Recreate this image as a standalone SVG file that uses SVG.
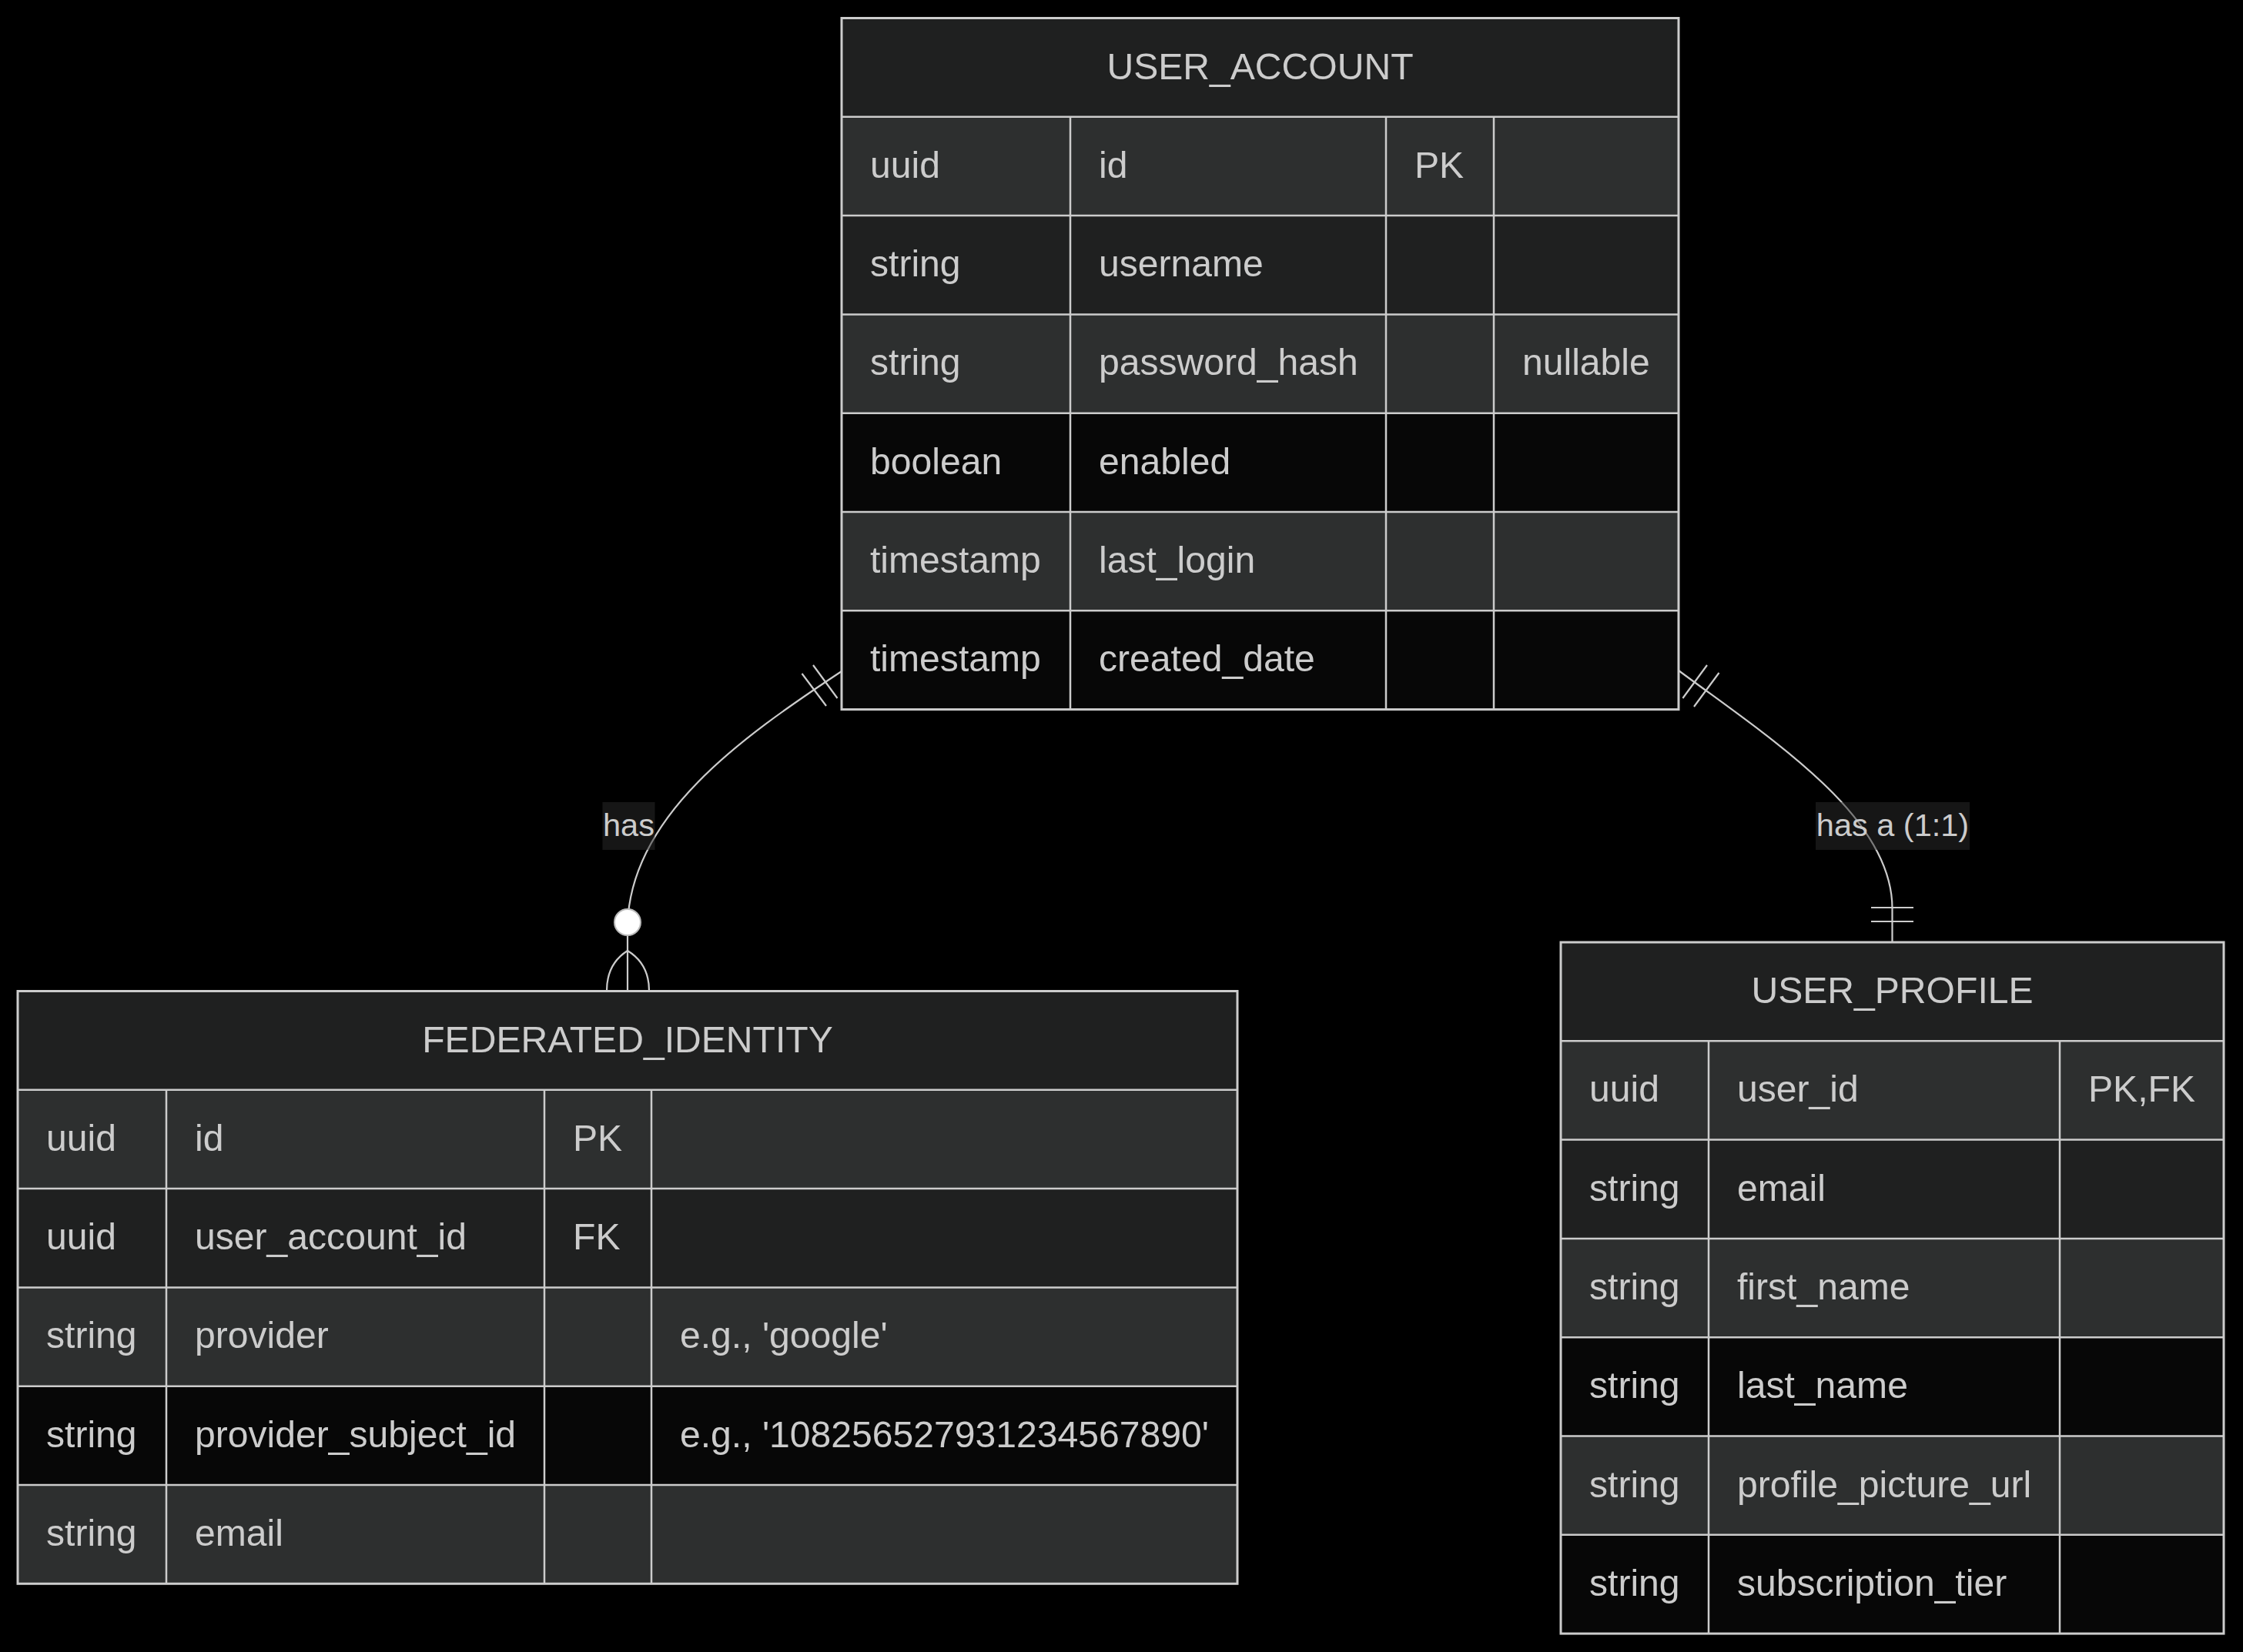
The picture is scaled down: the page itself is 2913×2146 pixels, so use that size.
<svg xmlns="http://www.w3.org/2000/svg" width="2913" height="2146" viewBox="0 0 2913 2146">
  <style>
    .bg { fill: #000000; }
    .hdr { fill: #1f2020; }
    .r1 { fill: #2d2f2f; }
    .r2 { fill: #1f2020; }
    .r3 { fill: #070707; }
    .grid { stroke: #cccccc; stroke-width: 2.5; fill: none; }
    .frame { stroke: #cccccc; stroke-width: 3; fill: none; }
    .t { fill: #cccccc; font-family: "Liberation Sans", Arial, sans-serif; font-size: 48.1px; }
    .tt { text-anchor: middle; }
    .rel { stroke: #cccccc; stroke-width: 2.2; fill: none; }
    .lblbg { fill: #2c2c2c; fill-opacity: 0.5; }
    .lbl { fill: #cccccc; font-family: "Liberation Sans", Arial, sans-serif; font-size: 41.5px; text-anchor: middle; }
    .dot { fill: #ffffff; stroke: #bbbbbb; stroke-width: 2; }
  </style>

  <rect class="bg" x="0" y="0" width="2913" height="2146"/>

  <!-- relationship lines -->
  <g id="connectors">
    <!-- USER_ACCOUNT exactly one, FEDERATED_IDENTITY zero or more -->
    <path class="rel" d="M1093,872 C960,960 820,1060 815,1200 L815,1287"/>
    <path class="rel" d="M1041.5,875 L1073,917 M1056,864 L1087.5,907"/>
    <circle class="dot" cx="815" cy="1198" r="17"/>
    <path class="rel" d="M815,1235 Q788,1252 788,1287 M815,1235 Q843,1252 843,1287"/>
    <!-- USER_ACCOUNT exactly one, USER_PROFILE exactly one -->
    <path class="rel" d="M2180,871 C2300,960 2457.5,1060 2457.5,1180 L2457.5,1224"/>
    <path class="rel" d="M2185.4,907 L2217,864 M2200,918 L2232.5,874"/>
    <path class="rel" d="M2430,1179 L2485,1179 M2430,1197 L2485,1197"/>
  </g>

  <g id="labels">
    <rect class="lblbg" x="782.5" y="1042" width="68" height="62"/>
    <text class="lbl" x="816.5" y="1086">has</text>
    <rect class="lblbg" x="2358" y="1042" width="200" height="62"/>
    <text class="lbl" x="2458" y="1086">has a (1:1)</text>
  </g>

  <!-- USER_ACCOUNT -->
  <g id="USER_ACCOUNT">
    <rect class="hdr" x="1093" y="23.5" width="1087" height="128.3"/>
    <rect class="r1" x="1093" y="151.8" width="1087" height="128.3"/>
    <rect class="r2" x="1093" y="280.1" width="1087" height="128.3"/>
    <rect class="r1" x="1093" y="408.4" width="1087" height="128.3"/>
    <rect class="r3" x="1093" y="536.7" width="1087" height="128.3"/>
    <rect class="r1" x="1093" y="665" width="1087" height="128.3"/>
    <rect class="r3" x="1093" y="793.3" width="1087" height="128.3"/>
    <path class="grid" d="M1093,151.8 H2180 M1093,280.1 H2180 M1093,408.4 H2180 M1093,536.7 H2180 M1093,665 H2180 M1093,793.3 H2180 M1390,151.8 V921.6 M1800,151.8 V921.6 M1940,151.8 V921.6"/>
    <rect class="frame" x="1093" y="23.5" width="1087" height="898.1"/>
    <text class="t tt" x="1636.5" y="102.5">USER_ACCOUNT</text>
    <text class="t" x="1130" y="230.8">uuid</text>
    <text class="t" x="1427" y="230.8">id</text>
    <text class="t" x="1837" y="230.8">PK</text>
    <text class="t" x="1130" y="359.1">string</text>
    <text class="t" x="1427" y="359.1">username</text>
    <text class="t" x="1130" y="487.4">string</text>
    <text class="t" x="1427" y="487.4">password_hash</text>
    <text class="t" x="1977" y="487.4">nullable</text>
    <text class="t" x="1130" y="615.7">boolean</text>
    <text class="t" x="1427" y="615.7">enabled</text>
    <text class="t" x="1130" y="744">timestamp</text>
    <text class="t" x="1427" y="744">last_login</text>
    <text class="t" x="1130" y="872.3">timestamp</text>
    <text class="t" x="1427" y="872.3">created_date</text>
  </g>

  <!-- FEDERATED_IDENTITY -->
  <g id="FEDERATED_IDENTITY">
    <rect class="hdr" x="23" y="1287.5" width="1584" height="128.3"/>
    <rect class="r1" x="23" y="1415.8" width="1584" height="128.3"/>
    <rect class="r2" x="23" y="1544.1" width="1584" height="128.3"/>
    <rect class="r1" x="23" y="1672.4" width="1584" height="128.3"/>
    <rect class="r3" x="23" y="1800.7" width="1584" height="128.3"/>
    <rect class="r1" x="23" y="1929" width="1584" height="128.3"/>
    <path class="grid" d="M23,1415.8 H1607 M23,1544.1 H1607 M23,1672.4 H1607 M23,1800.7 H1607 M23,1929 H1607 M216,1415.8 V2057.3 M707,1415.8 V2057.3 M846,1415.8 V2057.3"/>
    <rect class="frame" x="23" y="1287.5" width="1584" height="769.8"/>
    <text class="t tt" x="815" y="1366.5">FEDERATED_IDENTITY</text>
    <text class="t" x="60" y="1494.8">uuid</text>
    <text class="t" x="253" y="1494.8">id</text>
    <text class="t" x="744" y="1494.8">PK</text>
    <text class="t" x="60" y="1623.1">uuid</text>
    <text class="t" x="253" y="1623.1">user_account_id</text>
    <text class="t" x="744" y="1623.1">FK</text>
    <text class="t" x="60" y="1751.4">string</text>
    <text class="t" x="253" y="1751.4">provider</text>
    <text class="t" x="883" y="1751.4">e.g., 'google'</text>
    <text class="t" x="60" y="1879.7">string</text>
    <text class="t" x="253" y="1879.7">provider_subject_id</text>
    <text class="t" x="883" y="1879.7">e.g., '108256527931234567890'</text>
    <text class="t" x="60" y="2008">string</text>
    <text class="t" x="253" y="2008">email</text>
  </g>

  <!-- USER_PROFILE -->
  <g id="USER_PROFILE">
    <rect class="hdr" x="2027" y="1224" width="861" height="128.3"/>
    <rect class="r1" x="2027" y="1352.3" width="861" height="128.3"/>
    <rect class="r2" x="2027" y="1480.6" width="861" height="128.3"/>
    <rect class="r1" x="2027" y="1608.9" width="861" height="128.3"/>
    <rect class="r3" x="2027" y="1737.2" width="861" height="128.3"/>
    <rect class="r1" x="2027" y="1865.5" width="861" height="128.3"/>
    <rect class="r3" x="2027" y="1993.8" width="861" height="128.3"/>
    <path class="grid" d="M2027,1352.3 H2888 M2027,1480.6 H2888 M2027,1608.9 H2888 M2027,1737.2 H2888 M2027,1865.5 H2888 M2027,1993.8 H2888 M2219,1352.3 V2122.1 M2675,1352.3 V2122.1"/>
    <rect class="frame" x="2027" y="1224" width="861" height="898.1"/>
    <text class="t tt" x="2457.5" y="1303">USER_PROFILE</text>
    <text class="t" x="2064" y="1431.3">uuid</text>
    <text class="t" x="2256" y="1431.3">user_id</text>
    <text class="t" x="2712" y="1431.3">PK,FK</text>
    <text class="t" x="2064" y="1559.6">string</text>
    <text class="t" x="2256" y="1559.6">email</text>
    <text class="t" x="2064" y="1687.9">string</text>
    <text class="t" x="2256" y="1687.9">first_name</text>
    <text class="t" x="2064" y="1816.2">string</text>
    <text class="t" x="2256" y="1816.2">last_name</text>
    <text class="t" x="2064" y="1944.5">string</text>
    <text class="t" x="2256" y="1944.5">profile_picture_url</text>
    <text class="t" x="2064" y="2072.8">string</text>
    <text class="t" x="2256" y="2072.8">subscription_tier</text>
  </g>
</svg>
